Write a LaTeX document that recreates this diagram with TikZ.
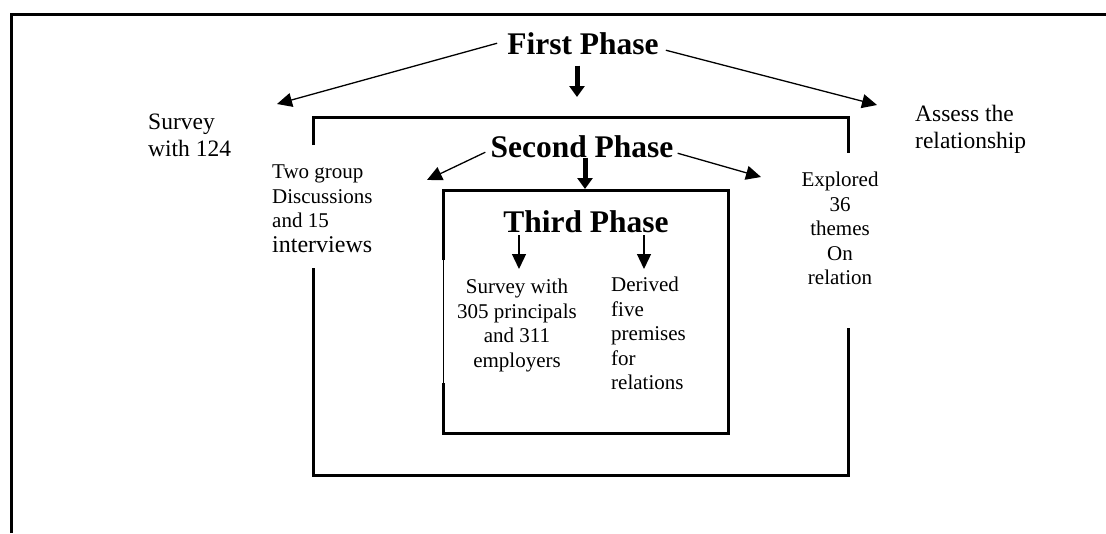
\documentclass[tikz,border=0pt]{standalone}
\usepackage{fontspec}
\setmainfont{Liberation Serif}
\usetikzlibrary{arrows.meta,positioning}

\begin{document}
\begin{tikzpicture}[
        x=1pt, y=-1pt,
        frame/.style={line width=3pt},
        thinarrow/.style={-{Triangle[length=15pt,width=14pt]}, line width=1.3pt},
        bigarrow/.style={-{Triangle[length=11pt,width=15pt]}, line width=5pt},
        phase/.style={font=\fontsize{31.5}{36}\selectfont\bfseries, inner sep=0pt},
        note/.style={font=\fontsize{21}{24.5}\selectfont, inner sep=0pt},
        bignote/.style={font=\fontsize{23.5}{27}\selectfont, inner sep=0pt}
    ]
        \useasboundingbox (0,0) rectangle (1106,533);

        % outer frame
        \draw[frame] (11,533) -- (11,14) -- (1106,14);

        % second phase box, open where the side notes sit
        \draw[frame] (313,145) -- (313,117) -- (848,117) -- (848,153);
        \draw[frame] (313,268) -- (313,475) -- (848,475) -- (848,328);

        % third phase box
        \draw[frame] (443,260) -- (443,190) -- (728,190) -- (728,433) -- (443,433) -- (443,383);
        \draw[line width=1pt] (443,260) -- (443,383);

        % phase titles
        \node[phase, anchor=base] (first) at (583,54) {First Phase};
        \node[phase, anchor=base] (second) at (582,157) {Second Phase};
        \node[phase, anchor=base] (third) at (586,232) {Third Phase};

        % notes
        \node[bignote, anchor=north west, align=left] (survey1) at (148,114) {Survey\\with 124};
        \node[bignote, anchor=north west, align=left] (assess) at (915,105) {Assess the\\relationship};
        \node[note, anchor=north west, align=left] (groups) at (272,165) {Two group\\Discussions\\and 15\\{\fontsize{24}{25}\selectfont interviews}};
        \node[note, anchor=north, align=center] (themes) at (840,172) {Explored\\36\\themes\\On\\relation};
        \node[note, anchor=north, align=center] (survey3) at (517,279) {Survey with\\305 principals\\and 311\\employers};
        \node[note, anchor=north west, align=left] (premises) at (611,277) {Derived\\five\\premises\\for\\relations};

        % free arrow ends
        \coordinate (surveytip) at (277,104);
        \coordinate (assesstip) at (877,105);
        \coordinate (secondtip) at (577,97);
        \coordinate (groupstip) at (427,180);
        \coordinate (themestip) at (761,177);
        \coordinate (thirdtip) at (585,189);

        \draw[thinarrow] ([xshift=-10pt]first.west) -- (surveytip);
        \draw[thinarrow] ([shift={(7,7)}]first.east) -- (assesstip);
        \draw[bigarrow] ([shift={(-6,11)}]first.south) -- (secondtip);

        \draw[thinarrow] ([shift={(-5,6)}]second.west) -- (groupstip);
        \draw[thinarrow] ([shift={(4,7)}]second.east) -- (themestip);
        \draw[bigarrow] ([xshift=3pt]second.south) -- (thirdtip);

        \draw[thinarrow] ([shift={(2,-44)}]survey3.north) -- ([shift={(2,-10)}]survey3.north);
        \draw[thinarrow] ([shift={(33,-42)}]premises.north west) -- ([shift={(33,-8)}]premises.north west);
    \end{tikzpicture}
\end{document}
